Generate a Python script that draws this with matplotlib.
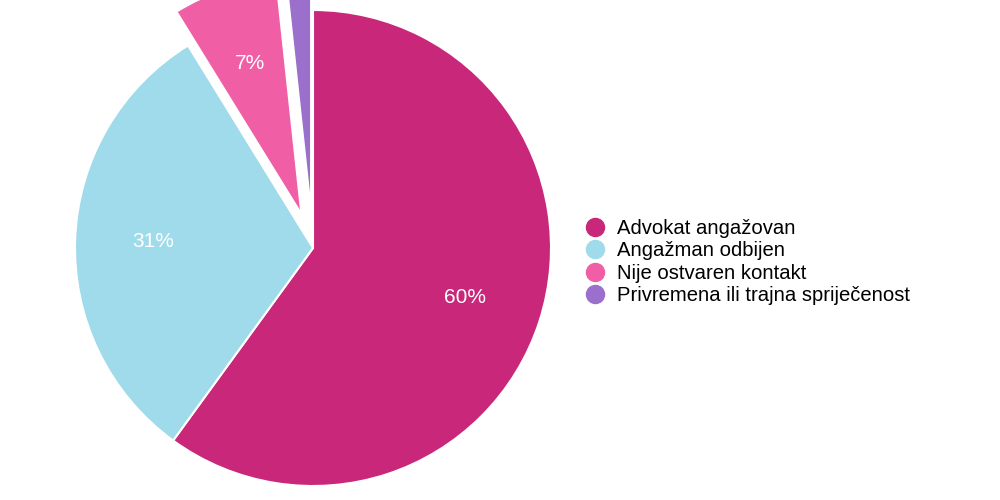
import matplotlib.pyplot as plt
from matplotlib.lines import Line2D

plt.rcParams['font.family'] = ['Liberation Sans', 'DejaVu Sans']

# podaci
kategorije = ['Advokat angažovan', 'Angažman odbijen', 'Nije ostvaren kontakt',
              'Privremena ili trajna spriječenost']
vrijednosti = [60.0, 31.2, 7.1, 1.7]
boje = ['#C9287A', '#9FDBEA', '#F05FA5', '#9B6FCC']
izdvojeno = [0, 0, 0.15, 0.15]

fig = plt.figure(figsize=(10, 5), dpi=100)
ax = fig.add_axes([0, 0, 1, 1])

def fmt(p):
    return '%d%%' % round(p) if p >= 5 else ''

wedges, texts, autotexts = ax.pie(
    vrijednosti, colors=boje, explode=izdvojeno, startangle=90,
    counterclock=False, autopct=fmt, pctdistance=0.67,
    wedgeprops=dict(edgecolor='white', linewidth=1.5),
    textprops=dict(color='white', fontsize=15))

# centar pite na (313, 248) px, radijus 238 px
r = 238
ax.set_xlim(-313 / r, (1000 - 313) / r)
ax.set_ylim(-(500 - 248) / r, 248 / r)
ax.set_aspect('auto')
ax.axis('off')

handles = [Line2D([], [], marker='o', linestyle='', markersize=13,
                  markerfacecolor=c, markeredgecolor=c) for c in boje]
fig.legend(handles, kategorije, loc='center left', bbox_to_anchor=(0.573, 0.476),
           frameon=False, fontsize=14.6, handletextpad=0.45, labelspacing=0.17,
           handlelength=1.2, borderpad=0)

fig.savefig('out.png', dpi=100)
